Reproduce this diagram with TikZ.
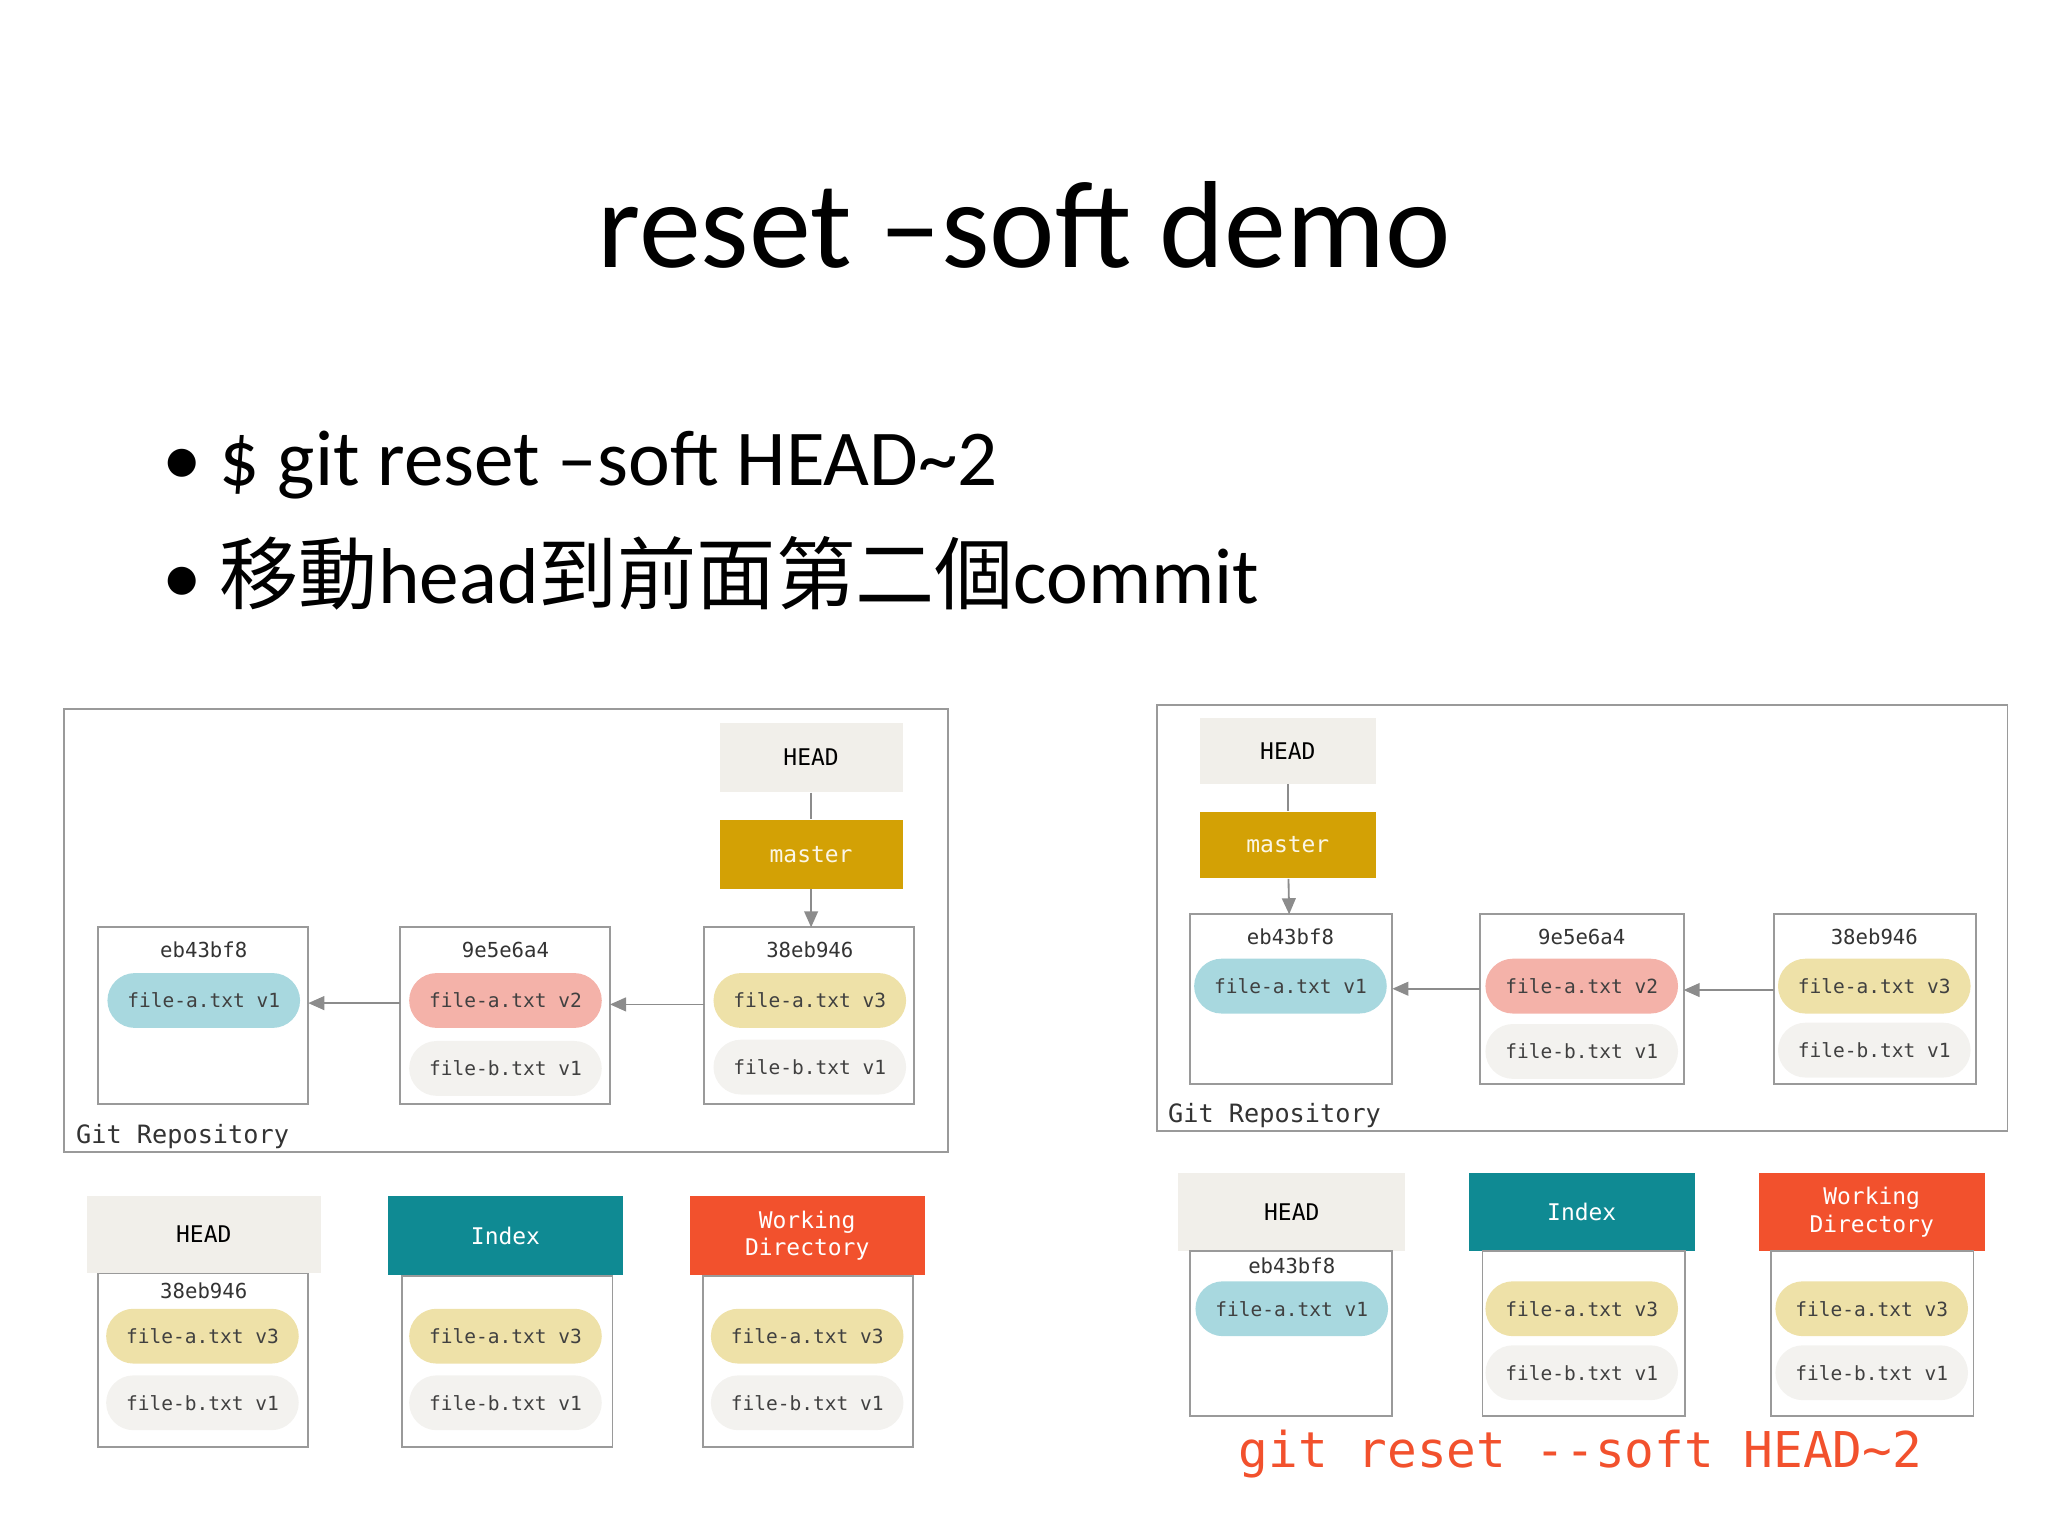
\documentclass[tikz,border=0pt]{standalone}
\usepackage{fontspec}
\setmainfont{Carlito}
\newfontfamily\cjk{Noto Sans CJK TC}
\newfontfamily\mono{DejaVu Sans Mono}
\usetikzlibrary{arrows.meta}
\definecolor{bord}{HTML}{9A9A9A}
\definecolor{hd}{HTML}{F1EFEA}
\definecolor{ms}{HTML}{D3A105}
\definecolor{ix}{HTML}{0F8A93}
\definecolor{wd}{HTML}{F2512D}
\definecolor{pb}{HTML}{A8D8DF}
\definecolor{pp}{HTML}{F4B2A9}
\definecolor{py}{HTML}{EEE1A8}
\definecolor{pg}{HTML}{F3F2EF}
\begin{document}
\begin{tikzpicture}[x=0.02cm,y=-0.02cm,
  box/.style={draw=bord,line width=0.8pt},
  hdr/.style={inner sep=0,font=\mono\fontsize{10}{12}\selectfont,align=center},
  pill/.style={rounded corners=0.42cm,minimum width=2.95cm,minimum height=0.84cm,inner sep=0,font=\mono\fontsize{8.5}{10}\selectfont,text=black!75},
  hash/.style={font=\mono\fontsize{9}{10}\selectfont,text=black!80},
  conn/.style={draw=black!45,line width=0.8pt},
  arr/.style={conn,-{Triangle[length=7pt,width=6pt]}},
  lbl/.style={font=\mono\fontsize{11}{12}\selectfont,text=black!80,anchor=south west,inner sep=0}]
\useasboundingbox (0,0) rectangle (1568,1176);
\node[font=\fontsize{54}{60}\selectfont] (title) at (784,172) {reset –soft demo};
\node[anchor=base west,inner sep=0,font=\fontsize{34.5}{40}\selectfont] (b1) at (124,372) {• \$ git reset –soft HEAD\char`~2};
\node[anchor=base west,inner sep=0,font=\fontsize{34.5}{40}\selectfont] (b2) at (124,462) {• {\cjk 移動}head{\cjk 到前面第二個}commit};
% ---------- left repo
\draw[box] (49,543) rectangle (726,882);
\node[lbl] (lr) at (58,880) {Git Repository};
\node[fill=hd,minimum width=2.8cm,minimum height=1.06cm,hdr] (lh) at (621,580) {HEAD};
\node[fill=ms,minimum width=2.8cm,minimum height=1.06cm,hdr,text=white!90!ms] (lm) at (621,654) {master};
\draw[box] (75,710) rectangle (236,845);
\draw[box] (306,710) rectangle (467,845);
\draw[box] (539,710) rectangle (700,845);
\coordinate (lc1r) at (236,768); \coordinate (lc2l) at (306,768);
\coordinate (lc2r) at (467,769); \coordinate (lc3l) at (539,769);
\coordinate (lc3t) at (621,710);
\node[hash] (lh1) at (156,727) {eb43bf8};
\node[hash] (lh2) at (387,727) {9e5e6a4};
\node[hash] (lh3) at (620,727) {38eb946};
\node[pill,fill=pb] (lp1) at (156,766) {file-a.txt v1};
\node[pill,fill=pp] (lp2) at (387,766) {file-a.txt v2};
\node[pill,fill=pg] (lp3) at (387,818) {file-b.txt v1};
\node[pill,fill=py] (lp4) at (620,766) {file-a.txt v3};
\node[pill,fill=pg] (lp5) at (620,817) {file-b.txt v1};
\draw[conn] (lh) -- (lm);
\draw[arr] (lm) -- (lc3t);
\draw[arr] (lc2l) -- (lc1r);
\draw[arr] (lc3l) -- (lc2r);
% ---------- left bottom
\node[fill=hd,minimum width=3.58cm,minimum height=1.18cm,hdr] (lbh) at (156,945) {HEAD};
\node[fill=ix,minimum width=3.6cm,minimum height=1.22cm,hdr,text=white] (lbi) at (387,946) {Index};
\node[fill=wd,minimum width=3.6cm,minimum height=1.22cm,hdr,text=white] (lbw) at (618,946) {Working\\Directory};
\draw[box] (75,975) rectangle (236,1108);
\draw[box] (308,977) rectangle (469,1108);
\draw[box] (538,977) rectangle (699,1108);
\node[hash] (lbhash) at (156,988) {38eb946};
\node[pill,fill=py] (b1a) at (155,1023) {file-a.txt v3};
\node[pill,fill=pg] (b1b) at (155,1074) {file-b.txt v1};
\node[pill,fill=py] (b2a) at (387,1023) {file-a.txt v3};
\node[pill,fill=pg] (b2b) at (387,1074) {file-b.txt v1};
\node[pill,fill=py] (b3a) at (618,1023) {file-a.txt v3};
\node[pill,fill=pg] (b3b) at (618,1074) {file-b.txt v1};
% ---------- right repo
\draw[box] (886,540) rectangle (1537,866);
\node[lbl] (rr) at (894,864) {Git Repository};
\node[fill=hd,minimum width=2.7cm,minimum height=1.0cm,hdr] (rh) at (986,575) {HEAD};
\node[fill=ms,minimum width=2.7cm,minimum height=1.02cm,hdr,text=white!90!ms] (rm) at (986,647) {master};
\draw[box] (911,700) rectangle (1066,830);
\draw[box] (1133,700) rectangle (1289,830);
\draw[box] (1358,700) rectangle (1513,830);
\coordinate (rc1r) at (1066,757); \coordinate (rc2l) at (1133,757);
\coordinate (rc2r) at (1289,758); \coordinate (rc3l) at (1358,758);
\coordinate (rc1t) at (987,700);
\node[hash] (rh1) at (988,717) {eb43bf8};
\node[hash] (rh2) at (1211,717) {9e5e6a4};
\node[hash] (rh3) at (1435,717) {38eb946};
\node[pill,fill=pb] (rp1) at (988,755) {file-a.txt v1};
\node[pill,fill=pp] (rp2) at (1211,755) {file-a.txt v2};
\node[pill,fill=pg] (rp3) at (1211,805) {file-b.txt v1};
\node[pill,fill=py] (rp4) at (1435,755) {file-a.txt v3};
\node[pill,fill=pg] (rp5) at (1435,804) {file-b.txt v1};
\draw[conn] (rh) -- (rm);
\draw[arr] (rm) -- (rc1t);
\draw[arr] (rc2l) -- (rc1r);
\draw[arr] (rc3l) -- (rc2r);
% ---------- right bottom
\node[fill=hd,minimum width=3.48cm,minimum height=1.2cm,hdr] (rbh) at (989,928) {HEAD};
\node[fill=ix,minimum width=3.46cm,minimum height=1.2cm,hdr,text=white] (rbi) at (1211,928) {Index};
\node[fill=wd,minimum width=3.46cm,minimum height=1.2cm,hdr,text=white] (rbw) at (1433,928) {Working\\Directory};
\draw[box] (911,958) rectangle (1066,1084);
\draw[box] (1135,958) rectangle (1290,1084);
\draw[box] (1356,958) rectangle (1511,1084);
\node[hash] (rbhash) at (989,969) {eb43bf8};
\node[pill,fill=pb] (c1a) at (989,1002) {file-a.txt v1};
\node[pill,fill=py] (c2a) at (1211,1002) {file-a.txt v3};
\node[pill,fill=pg] (c2b) at (1211,1051) {file-b.txt v1};
\node[pill,fill=py] (c3a) at (1433,1002) {file-a.txt v3};
\node[pill,fill=pg] (c3b) at (1433,1051) {file-b.txt v1};
\node[font=\mono\fontsize{21.5}{24}\selectfont,text=wd] (cap) at (1210,1113) {git reset -{}-soft HEAD\char`~2};
\end{tikzpicture}
\end{document}
